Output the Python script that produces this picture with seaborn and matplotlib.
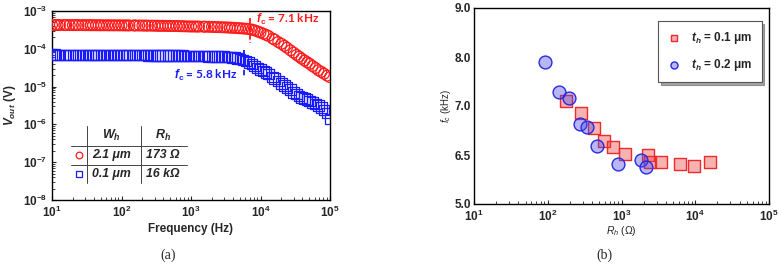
"""
Frequency response (a) and cutoff frequency vs heater resistance (b)
"""

import matplotlib
matplotlib.use("Agg")
import matplotlib.pyplot as plt
from matplotlib.ticker import FixedLocator, FixedFormatter, LogLocator, NullFormatter
import seaborn as sns

# ---- data ----
freq = [
    10, 11, 12, 13, 15, 16, 18, 20, 22, 24, 27, 30, 33, 36, 39, 43, 47, 51, 56, 62, 68, 75, 82, 91,
    100, 110, 120, 130, 150, 160, 180, 200, 220, 240, 270, 300, 330, 360, 390, 430, 470, 510, 560, 620, 680, 750, 820, 910,
    1000, 1100, 1200, 1300, 1500, 1600, 1800, 2000, 2200, 2400, 2700, 3000, 3300, 3600, 3900, 4300, 4700, 5100, 5600, 6200, 6800, 7500, 8200, 9100,
    10000, 11000, 12000, 13000, 15000, 16000, 18000, 20000, 22000, 24000, 27000, 30000, 33000, 36000, 39000, 43000, 47000, 51000, 56000, 62000, 68000, 75000, 82000, 91000,
    100000,
]
v_wide = [
    4.27e-4, 4.27e-4, 4.26e-4, 4.26e-4, 4.26e-4, 4.25e-4, 4.25e-4, 4.24e-4, 4.24e-4, 4.23e-4, 4.23e-4, 4.22e-4,
    4.22e-4, 4.21e-4, 4.21e-4, 4.20e-4, 4.20e-4, 4.19e-4, 4.19e-4, 4.19e-4, 4.18e-4, 4.18e-4, 4.18e-4, 4.17e-4,
    4.17e-4, 4.16e-4, 4.16e-4, 4.15e-4, 4.14e-4, 4.14e-4, 4.13e-4, 4.12e-4, 4.11e-4, 4.10e-4, 4.09e-4, 4.08e-4,
    4.07e-4, 4.06e-4, 4.05e-4, 4.04e-4, 4.03e-4, 4.02e-4, 4.01e-4, 4.00e-4, 3.98e-4, 3.96e-4, 3.94e-4, 3.91e-4,
    3.89e-4, 3.89e-4, 3.88e-4, 3.87e-4, 3.85e-4, 3.84e-4, 3.82e-4, 3.80e-4, 3.78e-4, 3.76e-4, 3.73e-4, 3.70e-4,
    3.67e-4, 3.64e-4, 3.61e-4, 3.57e-4, 3.53e-4, 3.49e-4, 3.45e-4, 3.40e-4, 3.33e-4, 3.22e-4, 3.08e-4, 2.88e-4,
    2.69e-4, 2.51e-4, 2.34e-4, 2.19e-4, 1.86e-4, 1.74e-4, 1.51e-4, 1.35e-4, 1.20e-4, 1.07e-4, 9.1e-5, 7.9e-5,
    6.9e-5, 6.2e-5, 5.5e-5, 4.9e-5, 4.4e-5, 4.0e-5, 3.5e-5, 3.1e-5, 2.7e-5, 2.45e-5, 2.2e-5, 1.95e-5,
    1.78e-5,
]
v_narrow = [
    6.95e-5, 6.95e-5, 6.94e-5, 6.94e-5, 6.94e-5, 6.93e-5, 6.93e-5, 6.92e-5, 6.92e-5, 6.91e-5, 6.91e-5, 6.90e-5,
    6.90e-5, 6.89e-5, 6.89e-5, 6.88e-5, 6.88e-5, 6.87e-5, 6.87e-5, 6.86e-5, 6.86e-5, 6.85e-5, 6.85e-5, 6.84e-5,
    6.84e-5, 6.83e-5, 6.83e-5, 6.82e-5, 6.81e-5, 6.80e-5, 6.79e-5, 6.78e-5, 6.77e-5, 6.76e-5, 6.75e-5, 6.74e-5,
    6.72e-5, 6.70e-5, 6.69e-5, 6.67e-5, 6.65e-5, 6.63e-5, 6.61e-5, 6.59e-5, 6.57e-5, 6.54e-5, 6.51e-5, 6.48e-5,
    6.45e-5, 6.44e-5, 6.43e-5, 6.42e-5, 6.40e-5, 6.38e-5, 6.35e-5, 6.30e-5, 6.27e-5, 6.24e-5, 6.20e-5, 6.15e-5,
    6.08e-5, 6.00e-5, 5.92e-5, 5.80e-5, 5.62e-5, 5.42e-5, 5.10e-5, 4.75e-5, 4.35e-5, 3.95e-5, 3.55e-5, 3.12e-5,
    2.80e-5, 2.57e-5, 2.34e-5, 2.14e-5, 1.78e-5, 1.66e-5, 1.41e-5, 1.20e-5, 1.07e-5, 9.5e-6, 8.3e-6, 7.1e-6,
    6.3e-6, 5.6e-6, 5.2e-6, 4.8e-6, 4.5e-6, 4.2e-6, 3.8e-6, 3.5e-6, 3.2e-6, 2.8e-6, 2.4e-6, 2.0e-6,
    1.4e-6,
]
fc_wide, fc_narrow = 7.1e3, 5.8e3

# panel (b)
rh_t01 = [175, 281, 422, 582, 771, 1122, 2296, 2420, 3412, 6237, 9550, 16040]
fc_t01 = [7.11, 6.86, 6.56, 6.29, 6.17, 6.03, 6.00, 5.85, 5.86, 5.81, 5.77, 5.86]
rh_t02 = [91, 143, 194, 273, 343, 468, 891, 1866, 2138]
fc_t02 = [7.90, 7.28, 7.16, 6.63, 6.57, 6.19, 5.82, 5.90, 5.76]

decade_ticks = [10, 100, 1000, 10000, 100000]
decade_labels = [r'$\mathbf{10^{1}}$', r'$\mathbf{10^{2}}$', r'$\mathbf{10^{3}}$',
                 r'$\mathbf{10^{4}}$', r'$\mathbf{10^{5}}$']
v_ticks = [1e-8, 1e-7, 1e-6, 1e-5, 1e-4, 1e-3]
v_labels = [r'$\mathbf{10^{-8}}$', r'$\mathbf{10^{-7}}$', r'$\mathbf{10^{-6}}$',
            r'$\mathbf{10^{-5}}$', r'$\mathbf{10^{-4}}$', r'$\mathbf{10^{-3}}$']
fc_ticks = [5, 6, 7, 8, 9]
fc_labels = ['5.0', '6.5', '7.0', '8.0', '9.0']

# ---- style ----
sns.set_style('ticks')
plt.rcParams['font.family'] = ['Liberation Sans', 'DejaVu Sans']
plt.rcParams['mathtext.fontset'] = 'custom'
plt.rcParams['mathtext.rm'] = 'Liberation Sans'
plt.rcParams['mathtext.bf'] = 'Liberation Sans:bold'
plt.rcParams['mathtext.it'] = 'Liberation Sans:italic'
plt.rcParams['mathtext.bfit'] = 'Liberation Sans:italic:bold'

RED = '#ff1a1a'
BLUE = '#1a1aff'
MU = '\u03bc'
OHM = '\u03a9'

fig = plt.figure(figsize=(7.78, 2.67), dpi=100)
ax_a = fig.add_axes([52 / 778, 1 - 200 / 267, 278 / 778, 189 / 267])
ax_b = fig.add_axes([474 / 778, 1 - 204 / 267, 295 / 778, 196 / 267])

# ---- (a) ----
sns.scatterplot(x=freq, y=v_wide, ax=ax_a, marker='o', s=60,
                facecolor='none', edgecolor=RED, linewidth=0.9, zorder=3)
sns.scatterplot(x=freq, y=v_narrow, ax=ax_a, marker='s', s=58,
                facecolor='none', edgecolor=BLUE, linewidth=0.9, zorder=3)
ax_a.set_xscale('log')
ax_a.set_yscale('log')
ax_a.set_xlim(10, 1e5)
ax_a.set_ylim(1e-8, 1e-3)

ax_a.plot([fc_wide, fc_wide], [6.4e-4, 1.4e-4], color=RED, lw=1.3, ls=(0, (3, 1.5)), zorder=4)
ax_a.plot([fc_narrow, fc_narrow], [9.3e-5, 1.7e-5], color=BLUE, lw=1.3, ls=(0, (3, 2.5)), zorder=4)
ax_a.text(8.6e3, 5.8e-4, r'$\mathbfit{f}_{\mathbf{c}}$ = 7.1 kHz', color=RED, family='Lato',
          fontsize=8.5, fontweight='bold', ha='left', va='center')
ax_a.text(4.6e3, 2.0e-5, r'$\mathbfit{f}_{\mathbf{c}}$ = 5.8 kHz', color=BLUE, family='Lato',
          fontsize=8.5, fontweight='bold', ha='right', va='center')

# inline table
tr = ax_a.transAxes
for xv in (0.126, 0.320):
    ax_a.plot([xv, xv], [0.090, 0.392], transform=tr, color='#444444', lw=0.7)
for yv in (0.286, 0.185):
    ax_a.plot([0.068, 0.486], [yv, yv], transform=tr, color='#444444', lw=0.7)
ax_a.text(0.215, 0.339, r'$\mathbfit{W}_{\mathbfit{h}}$', transform=tr, ha='center', va='center', fontsize=9)
ax_a.text(0.40, 0.339, r'$\mathbfit{R}_{\mathbfit{h}}$', transform=tr, ha='center', va='center', fontsize=9)
ax_a.plot([0.097], [0.238], transform=tr, marker='o', ms=4.8, mfc='none', mec=RED, mew=0.9)
ax_a.plot([0.097], [0.138], transform=tr, marker='s', ms=4.5, mfc='none', mec=BLUE, mew=0.9)
row_style = dict(transform=tr, ha='center', va='center', fontsize=8.8,
                 fontweight='bold', fontstyle='italic')
ax_a.text(0.215, 0.238, '2.1 ' + MU + 'm', **row_style)
ax_a.text(0.40, 0.238, '173 ' + OHM, **row_style)
ax_a.text(0.215, 0.138, '0.1 ' + MU + 'm', **row_style)
ax_a.text(0.40, 0.138, '16 k' + OHM, **row_style)

ax_a.xaxis.set_major_locator(FixedLocator(decade_ticks))
ax_a.xaxis.set_major_formatter(FixedFormatter(decade_labels))
ax_a.yaxis.set_major_locator(FixedLocator(v_ticks))
ax_a.yaxis.set_major_formatter(FixedFormatter(v_labels))
ax_a.set_xlabel('Frequency (Hz)', fontsize=8.5, fontweight='bold', labelpad=2)
ax_a.set_ylabel(r'$\mathbfit{V}_{\mathbfit{out}}$ (V)', fontsize=8.5, fontweight='bold', labelpad=3)

# ---- (b) ----
sns.scatterplot(x=rh_t01, y=fc_t01, ax=ax_b, marker='s', s=75,
                facecolor=(0.93, 0.25, 0.25, 0.4), edgecolor='#ee2a2a', linewidth=1.0,
                label=r'$\mathbfit{t}_{\mathbfit{h}}$ = 0.1 ' + MU + 'm', zorder=3)
sns.scatterplot(x=rh_t02, y=fc_t02, ax=ax_b, marker='o', s=85,
                facecolor=(0.3, 0.3, 0.9, 0.4), edgecolor='#2a2ae0', linewidth=1.0,
                label=r'$\mathbfit{t}_{\mathbfit{h}}$ = 0.2 ' + MU + 'm', zorder=4)
ax_b.set_xscale('log')
ax_b.set_xlim(10, 1e5)
ax_b.set_ylim(5, 9)
ax_b.xaxis.set_major_locator(FixedLocator(decade_ticks))
ax_b.xaxis.set_major_formatter(FixedFormatter(decade_labels))
ax_b.yaxis.set_major_locator(FixedLocator(fc_ticks))
ax_b.yaxis.set_major_formatter(FixedFormatter(fc_labels))
ax_b.set_xlabel(r'$\mathit{R}_{\mathit{h}}$ (' + OHM + ')', fontsize=7.5, labelpad=0)
ax_b.set_ylabel(r'$\mathit{f}_{\mathit{c}}$ (kHz)', fontsize=7, labelpad=1)

leg = ax_b.legend(loc='upper right', bbox_to_anchor=(0.995, 0.965), frameon=True, fancybox=False,
                  shadow=True, edgecolor='#555555', fontsize=8.5, markerscale=0.55,
                  handletextpad=0.8, labelspacing=0.9, borderpad=0.8, handlelength=1.2)
for t in leg.get_texts():
    t.set_fontweight('bold')
leg.get_frame().set_linewidth(0.8)

for ax in (ax_a, ax_b):
    ax.xaxis.set_minor_locator(LogLocator(base=10, subs=range(2, 10), numticks=20))
    ax.xaxis.set_minor_formatter(NullFormatter())
    ax.tick_params(which='both', direction='in', labelsize=8.5)
    ax.tick_params(which='major', length=3, width=0.8)
    ax.tick_params(which='minor', length=2, width=0.6)
    for lbl in ax.get_xticklabels() + ax.get_yticklabels():
        lbl.set_fontweight('bold')
    for sp in ax.spines.values():
        sp.set_visible(True)
        sp.set_linewidth(1.0)
        sp.set_color('black')
ax_a.yaxis.set_minor_locator(LogLocator(base=10, subs=range(2, 10), numticks=20))
ax_a.yaxis.set_minor_formatter(NullFormatter())
ax_b.tick_params(axis='y', which='both', length=0, pad=2)

fig.text(168 / 778, 1 - 255 / 267, '(a)', family='Liberation Serif', fontsize=10, ha='center', va='center')
fig.text(604 / 778, 1 - 255 / 267, '(b)', family='Liberation Serif', fontsize=10, ha='center', va='center')

fig.savefig('out.png', dpi=100)
